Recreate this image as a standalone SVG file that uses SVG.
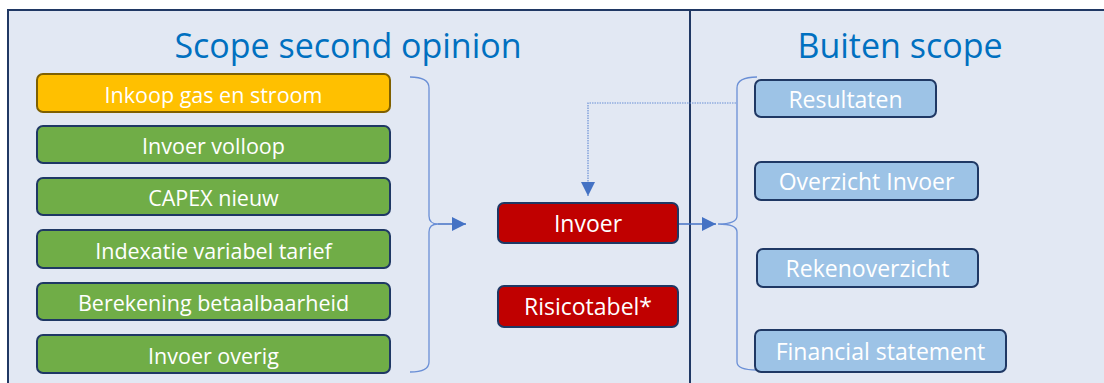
<svg xmlns="http://www.w3.org/2000/svg" width="1104" height="383" viewBox="0 0 1104 383">
<defs>
<style>
.t{font-family:"Open Sans","Liberation Sans",Arial,sans-serif;font-size:21.5px;fill:#FFFFFF;text-anchor:middle;dominant-baseline:central}
.t2{font-size:23px}
.h{font-family:"Open Sans","Liberation Sans",Arial,sans-serif;font-size:34px;fill:#0070C0;text-anchor:middle}
.g{fill:#70AD47;stroke:#1F3864;stroke-width:2}
.o{fill:#FFC000;stroke:#7F6000;stroke-width:2}
.r{fill:#C00000;stroke:#1F3864;stroke-width:2}
.b{fill:#9DC3E6;stroke:#1F3864;stroke-width:2}
.br{fill:none;stroke:#6A8FD6;stroke-width:1.3}
.ar{fill:none;stroke:#4472C4;stroke-width:1.5}
</style>
<marker id="ah" viewBox="0 0 10 10" refX="10" refY="5" markerWidth="14" markerHeight="14" markerUnits="userSpaceOnUse" orient="auto">
<path d="M0,0 L10,5 L0,10 z" fill="#4472C4"/>
</marker>
</defs>
<rect x="0" y="0" width="1104" height="383" fill="#FFFFFF"/>
<rect x="8" y="10" width="1100" height="380" fill="#E2E8F3" stroke="#203864" stroke-width="2"/>
<line x1="690" y1="10" x2="690" y2="383" stroke="#203864" stroke-width="2"/>
<text class="h" x="348" y="58">Scope second opinion</text>
<text class="h" x="900" y="58">Buiten scope</text>
<g id="connectors">
<path class="br" d="M410,77 Q429,77 429,88 L429,216 Q429,224 438,224 Q429,224 429,232 L429,362 Q429,372 410,372"/>
<line class="ar" x1="438" y1="224" x2="466" y2="224" marker-end="url(#ah)"/>
<line class="ar" x1="679" y1="224" x2="716" y2="224" marker-end="url(#ah)"/>
<path class="br" d="M757,77 Q737,77 737,88 L737,216 Q737,224 718,224 Q737,224 737,232 L737,362 Q737,370 757,370"/>
<path d="M736,103 L588,103 L588,196" fill="none" stroke="#6A8FD6" stroke-width="1.2" stroke-dasharray="1.5,1" marker-end="url(#ah)"/>
</g>
<g id="inkoop"><rect class="o" x="37" y="74" width="353" height="38" rx="6"/><text class="t" x="213.5" y="94">Inkoop gas en stroom</text></g>
<g id="volloop"><rect class="g" x="37" y="126" width="353" height="37" rx="6"/><text class="t" x="213.5" y="145">Invoer volloop</text></g>
<g id="capex"><rect class="g" x="37" y="178" width="353" height="37" rx="6"/><text class="t" x="213.5" y="197">CAPEX nieuw</text></g>
<g id="indexatie"><rect class="g" x="37" y="230" width="353" height="38" rx="6"/><text class="t" x="213.5" y="250">Indexatie variabel tarief</text></g>
<g id="berekening"><rect class="g" x="37" y="283" width="353" height="37" rx="6"/><text class="t" x="213.5" y="302">Berekening betaalbaarheid</text></g>
<g id="overig"><rect class="g" x="37" y="335" width="353" height="38" rx="6"/><text class="t" x="213.5" y="355">Invoer overig</text></g>
<g id="invoer"><rect class="r" x="498" y="203" width="180" height="40" rx="6"/><text class="t t2" x="588" y="223">Invoer</text></g>
<g id="risicotabel"><rect class="r" x="498" y="286" width="180" height="41" rx="6"/><text class="t t2" x="588" y="306">Risicotabel*</text></g>
<g id="resultaten"><rect class="b" x="755" y="80" width="181" height="37" rx="6"/><text class="t t2" x="845.5" y="99">Resultaten</text></g>
<g id="overzicht"><rect class="b" x="755" y="162" width="223" height="38" rx="6"/><text class="t t2" x="866.5" y="181">Overzicht Invoer</text></g>
<g id="rekenoverzicht"><rect class="b" x="757" y="249" width="221" height="38" rx="6"/><text class="t t2" x="867.5" y="268">Rekenoverzicht</text></g>
<g id="financial"><rect class="b" x="755" y="330" width="251" height="42" rx="6"/><text class="t t2" x="880.5" y="351">Financial statement</text></g>
</svg>
